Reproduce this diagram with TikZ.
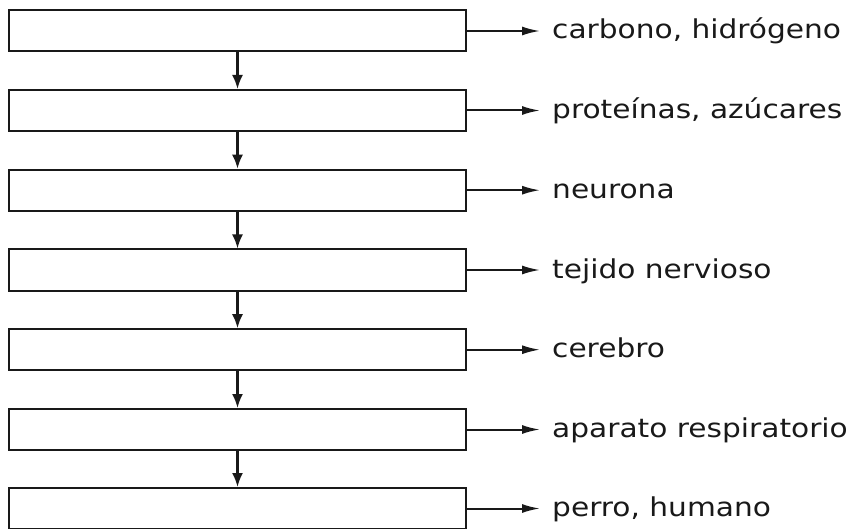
\documentclass[tikz,border=0pt]{standalone}
\usepackage{fontspec}
\setmainfont{DejaVu Sans}[FakeStretch=1.14]
\usetikzlibrary{arrows.meta}
\begin{document}
\begin{tikzpicture}[x=1pt,y=-1pt,
  stepbox/.style={draw=black!90, line width=2pt, minimum width=457pt, minimum height=41pt, inner sep=0pt, fill=white},
  lbl/.style={anchor=base west, inner sep=0pt, font=\fontsize{26}{30}\selectfont, text=black!90},
  varrow/.style={draw=black!90, line width=2.2pt, -{Latex[length=14pt,width=11pt]}},
  harrow/.style={draw=black!90, line width=2pt, -{Latex[length=18pt,width=9pt]}, shorten >=12pt}]
\useasboundingbox (0,0) rectangle (848,529);
\foreach \i/\cy/\txt in {1/31/{carbono, hidrógeno},2/110.5/{proteínas, azúcares},3/190.2/{neurona},4/270/{tejido nervioso},5/349.7/{cerebro},6/429.5/{aparato respiratorio},7/508.5/{perro, humano}}{
  \node[stepbox] (b\i) at (237.5,\cy) {};
  \node[lbl] (t\i) at (552,\cy+8) {\txt};
  \draw[harrow] (b\i.east) -- (b\i.east -| t\i.west);
}
\foreach \i/\j in {1/2,2/3,3/4,4/5,5/6,6/7}{
  \draw[varrow] (b\i.south) -- (b\j.north);
}
\end{tikzpicture}
\end{document}
